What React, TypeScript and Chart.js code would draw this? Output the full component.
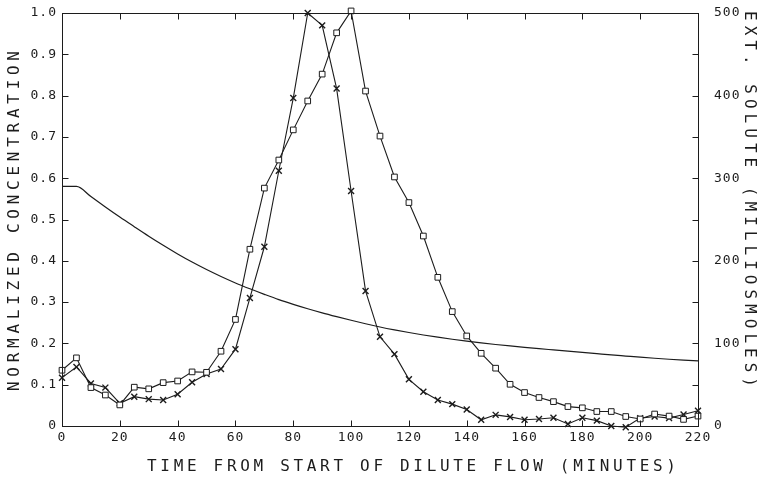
import React, { useEffect, useRef } from "react";
import { Chart, registerables } from "chart.js";

Chart.register(...registerables);

// ---- data ----
const times = [
  0, 5, 10, 15, 20, 25, 30, 35, 40, 45, 50, 55, 60, 65, 70, 75, 80, 85, 90, 95,
  100, 105, 110, 115, 120, 125, 130, 135, 140, 145, 150, 155, 160, 165, 170,
  175, 180, 185, 190, 195, 200, 205, 210, 215, 220,
];

// square markers (normalized concentration)
const squareSeries = [
  0.135, 0.165, 0.093, 0.075, 0.051, 0.094, 0.09, 0.105, 0.109, 0.131, 0.13,
  0.181, 0.258, 0.428, 0.576, 0.644, 0.717, 0.787, 0.852, 0.952, 1.005, 0.811,
  0.702, 0.603, 0.541, 0.46, 0.36, 0.277, 0.218, 0.176, 0.14, 0.101, 0.081,
  0.069, 0.059, 0.047, 0.044, 0.035, 0.035, 0.023, 0.017, 0.029, 0.024, 0.016,
  0.024,
];

// cross markers (normalized concentration)
const crossSeries = [
  0.117, 0.143, 0.103, 0.093, 0.055, 0.071, 0.065, 0.063, 0.077, 0.106, 0.126,
  0.138, 0.186, 0.31, 0.434, 0.618, 0.794, 1.0, 0.97, 0.817, 0.569, 0.327,
  0.216, 0.174, 0.113, 0.083, 0.063, 0.053, 0.04, 0.015, 0.027, 0.022, 0.015,
  0.017, 0.02, 0.005, 0.02, 0.013, 0.0, -0.003, 0.019, 0.023, 0.019, 0.028,
  0.037,
];

// external solute (milliosmoles), right axis
const soluteCurve = [
  290, 290, 277.8, 265.2, 253, 241.3, 229.8, 218.8, 208.3, 198.5, 189.4, 181,
  173.2, 166.1, 159.4, 153, 147.3, 142, 137, 132.4, 128, 123.8, 119.9, 116.4,
  113.2, 110.2, 107.5, 105, 102.7, 100.6, 98.7, 96.9, 95.2, 93.6, 92.1, 90.6,
  89.1, 87.6, 86.1, 84.7, 83.3, 82, 80.8, 79.8, 78.9,
];

const xTitle = "TIME FROM START OF DILUTE FLOW (MINUTES)";
const leftTitle = "NORMALIZED CONCENTRATION";
const rightTitle = "EXT. SOLUTE (MILLIOSMOLES)";

const INK = "#1c1c1c";
const MONO = "'DejaVu Sans Mono', 'Liberation Mono', monospace";

function drawSpaced(
  ctx: CanvasRenderingContext2D,
  text: string,
  span: number
) {
  // draws text starting at (0,0) along +x, fitted to span
  const widths = Array.from(text).map((c) => ctx.measureText(c).width);
  const total = widths.reduce((a, b) => a + b, 0);
  const gap = (span - total) / (text.length - 1);
  let x = 0;
  Array.from(text).forEach((c, i) => {
    ctx.fillText(c, x, 0);
    x += widths[i] + gap;
  });
}

const framePlugin = {
  id: "framePlugin",
  beforeDraw(chart: any) {
    try {
      chart.ctx.letterSpacing = "1px";
    } catch (e) {}
  },
  afterDraw(chart: any) {
    const { ctx, chartArea: a, scales } = chart;
    ctx.save();
    try {
      ctx.letterSpacing = "0px";
    } catch (e) {}
    const L = Math.round(a.left) + 0.5;
    const R = Math.round(a.right) + 0.5;
    const T = Math.round(a.top) + 0.5;
    const B = Math.round(a.bottom) + 0.5;
    ctx.strokeStyle = INK;
    ctx.lineWidth = 1;
    ctx.strokeRect(L, T, R - L, B - T);
    const tl = 6;
    ctx.beginPath();
    scales.x.ticks.forEach((t: any) => {
      const px = Math.round(scales.x.getPixelForValue(t.value)) + 0.5;
      if (px <= L + 1 || px >= R - 1) return;
      ctx.moveTo(px, B);
      ctx.lineTo(px, B - tl);
      ctx.moveTo(px, T);
      ctx.lineTo(px, T + tl);
    });
    scales.y.ticks.forEach((t: any) => {
      const py = Math.round(scales.y.getPixelForValue(t.value)) + 0.5;
      if (py <= T + 1 || py >= B - 1) return;
      ctx.moveTo(L, py);
      ctx.lineTo(L + tl, py);
    });
    scales.y1.ticks.forEach((t: any) => {
      const py = Math.round(scales.y1.getPixelForValue(t.value)) + 0.5;
      if (py <= T + 1 || py >= B - 1) return;
      ctx.moveTo(R, py);
      ctx.lineTo(R - tl, py);
    });
    ctx.stroke();

    // axis titles
    ctx.fillStyle = INK;
    ctx.font = `16px ${MONO}`;
    ctx.textBaseline = "middle";
    ctx.textAlign = "left";
    // bottom title
    ctx.save();
    ctx.translate(147, 467);
    drawSpaced(ctx, xTitle, 529);
    ctx.restore();
    // left title (reads bottom to top)
    ctx.save();
    ctx.translate(15, 391);
    ctx.rotate(-Math.PI / 2);
    drawSpaced(ctx, leftTitle, 340);
    ctx.restore();
    // right title (reads top to bottom)
    ctx.save();
    ctx.translate(749, 11);
    ctx.rotate(Math.PI / 2);
    drawSpaced(ctx, rightTitle, 376);
    ctx.restore();

    ctx.restore();
  },
};

export default function App() {
  const ref = useRef<HTMLCanvasElement | null>(null);

  useEffect(() => {
    document.body.style.margin = "0";
    const canvas = ref.current;
    if (!canvas) return;
    const chart = new Chart(canvas, {
      type: "line",
      data: {
        datasets: [
          {
            label: "squares",
            data: times.map((t, i) => ({ x: t, y: squareSeries[i] })),
            yAxisID: "y",
            borderColor: INK,
            borderWidth: 1.1,
            pointStyle: "rect",
            pointRadius: 4,
            pointBorderWidth: 1,
            pointBorderColor: INK,
            pointBackgroundColor: "#ffffff",
            tension: 0,
            clip: false,
          },
          {
            label: "crosses",
            data: times.map((t, i) => ({ x: t, y: crossSeries[i] })),
            yAxisID: "y",
            borderColor: INK,
            borderWidth: 1.1,
            pointStyle: "crossRot",
            pointRadius: 4.2,
            pointBorderWidth: 1.4,
            pointBorderColor: INK,
            pointBackgroundColor: INK,
            tension: 0,
            clip: false,
          },
          {
            label: "solute",
            data: times.map((t, i) => ({ x: t, y: soluteCurve[i] })),
            yAxisID: "y1",
            borderColor: INK,
            borderWidth: 1.2,
            pointRadius: 0,
            cubicInterpolationMode: "monotone",
            clip: false,
          },
        ],
      },
      options: {
        animation: false,
        responsive: false,
        devicePixelRatio: 1,
        layout: { padding: { top: 13, left: 0, right: 0, bottom: 0 } },
        plugins: {
          legend: { display: false },
          tooltip: { enabled: false },
        },
        scales: {
          x: {
            type: "linear",
            position: "bottom",
            min: 0,
            max: 220,
            grid: { display: false, drawTicks: false },
            border: { display: false },
            ticks: {
              stepSize: 20,
              padding: 4,
              color: INK,
              font: { family: MONO, size: 13 },
              maxRotation: 0,
              autoSkip: false,
              callback: (v: any) => String(v),
            },
            afterFit: (s: any) => {
              s.height = 53;
              s.paddingLeft = 0;
              s.paddingRight = 0;
            },
          },
          y: {
            type: "linear",
            position: "left",
            min: 0,
            max: 1,
            grid: { display: false, drawTicks: false },
            border: { display: false },
            ticks: {
              stepSize: 0.1,
              padding: 5,
              color: INK,
              font: { family: MONO, size: 13 },
              autoSkip: false,
              callback: (v: any) => (Number(v) === 0 ? "0" : Number(v).toFixed(1)),
            },
            afterFit: (s: any) => {
              s.width = 62;
              s.paddingTop = 0;
              s.paddingBottom = 0;
            },
          },
          y1: {
            type: "linear",
            position: "right",
            min: 0,
            max: 500,
            grid: { display: false, drawTicks: false },
            border: { display: false },
            ticks: {
              stepSize: 50,
              padding: 16,
              color: INK,
              font: { family: MONO, size: 13 },
              autoSkip: false,
              callback: (v: any) =>
                Math.round(Number(v)) % 100 === 0 ? String(Math.round(Number(v))) : "",
            },
            afterFit: (s: any) => {
              s.width = 63;
              s.paddingTop = 0;
              s.paddingBottom = 0;
            },
          },
        },
      },
      plugins: [framePlugin],
    });
    return () => chart.destroy();
  }, []);

  return (
    <div style={{ width: 761, height: 479, background: "#ffffff" }}>
      <canvas ref={ref} width={761} height={479} style={{ display: "block" }} />
    </div>
  );
}
